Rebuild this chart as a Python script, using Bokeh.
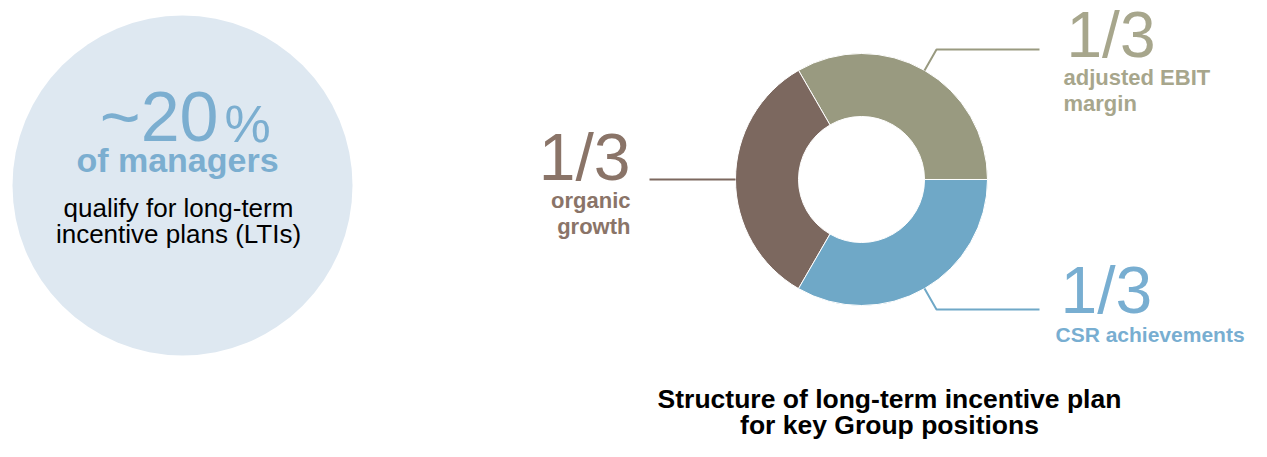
import math
from bokeh.plotting import figure
from bokeh.models import Range1d, ColumnDataSource
from bokeh.core.properties import value
from bokeh.embed import file_html
from bokeh.resources import INLINE

# ---------------- data ----------------
categories = ["adjusted EBIT margin", "organic growth", "CSR achievements"]
shares = [1 / 3, 1 / 3, 1 / 3]
share_labels = ["1/3", "1/3", "1/3"]
label_lines = [["adjusted EBIT", "margin"], ["organic", "growth"], ["CSR achievements"]]
wedge_colors = ["#999A80", "#7C685F", "#6FA8C7"]
text_colors = ["#A7A68C", "#8A7468", "#78AED1"]

stat_value = "~20"
stat_unit = "%"
stat_subject = "of managers"
stat_desc = ["qualify for long-term", "incentive plans (LTIs)"]
title_lines = ["Structure of long-term incentive plan", "for key Group positions"]

# ---------------- layout (pixel coords, y measured downward) ----------------
PW, PH = 1251, 441
def Y(py):
    return PH - py

def TY(py, size):
    # baseline position compensated for the svg text placement
    return Y(py - 0.38 * size)

p = figure(width=PW, height=PH, output_backend="svg", toolbar_location=None,
           x_range=Range1d(0, PW), y_range=Range1d(0, PH),
           min_border=0, outline_line_color=None, background_fill_color="white")
p.axis.visible = False
p.grid.visible = False

SANS = value("Liberation Sans")

def txt(x, py, s, size, color, align, bold=False):
    p.text(x=[x], y=[TY(py, size)], text=[s], text_font=SANS, text_font_size=f"{size}px",
           text_font_style="bold" if bold else "normal", text_color=color,
           text_align=align, text_baseline="alphabetic")

# left bubble
p.circle(x=[182], y=[Y(185)], radius=170, fill_color="#DEE8F1", line_color=None)
txt(218, 143, stat_value, 70, "#7BAED0", "right")
txt(224, 143, stat_unit, 52, "#7BAED0", "left")
txt(177, 172, stat_subject, 34, "#7BAED0", "center", bold=True)
for i, line in enumerate(stat_desc):
    txt(178, 217 + 26 * i, line, 26, "black", "center")

# donut
cx, cy = 861, Y(179)
r_out, r_in = 126, 63
starts, ends, mids = [], [], []
acc = 0.0
for s in shares:
    a0 = 2 * math.pi * acc
    acc += s
    a1 = 2 * math.pi * acc
    starts.append(a0)
    ends.append(a1)
    mids.append((a0 + a1) / 2)
src = ColumnDataSource(dict(start=starts, end=ends, color=wedge_colors, cat=categories))
p.annular_wedge(x=cx, y=cy, inner_radius=r_in, outer_radius=r_out, start_angle="start",
                end_angle="end", fill_color="color", line_color="white", line_width=1,
                source=src)

# leader lines (radial out from wedge middle, then horizontal)
leader_end_x = [1039, 649, 1039]
for i, m in enumerate(mids):
    x0, y0 = cx + r_out * math.cos(m), cy + r_out * math.sin(m)
    x1, y1 = cx + 150 * math.cos(m), cy + 150 * math.sin(m)
    if abs(math.cos(m)) > 0.99:
        xs, ys = [x0, leader_end_x[i]], [y0, y0]
    else:
        xs, ys = [x0, x1, leader_end_x[i]], [y0, y1, y1]
    p.line(xs, ys, line_color=wedge_colors[i], line_width=2)

# share labels
num_pos = [(1066, 59, "left"), (630, 182, "right"), (1060, 315, "left")]
num_size = [64, 66, 66]
lab_pos = [(1063, 85, "left"), (630, 208, "right"), (1055, 342, "left")]
lab_size = [22, 22, 21]
for i in range(3):
    nx, ny, al = num_pos[i]
    txt(nx, ny, share_labels[i], num_size[i], text_colors[i], al)
    lx, ly, la = lab_pos[i]
    for j, line in enumerate(label_lines[i]):
        txt(lx, ly + 26 * j, line, lab_size[i], text_colors[i], la, bold=True)

# title under the donut
for i, line in enumerate(title_lines):
    txt(889, 409 + 26 * i, line, 26.5, "black", "center", bold=True)

open("out.html", "w").write(file_html(p, INLINE))
